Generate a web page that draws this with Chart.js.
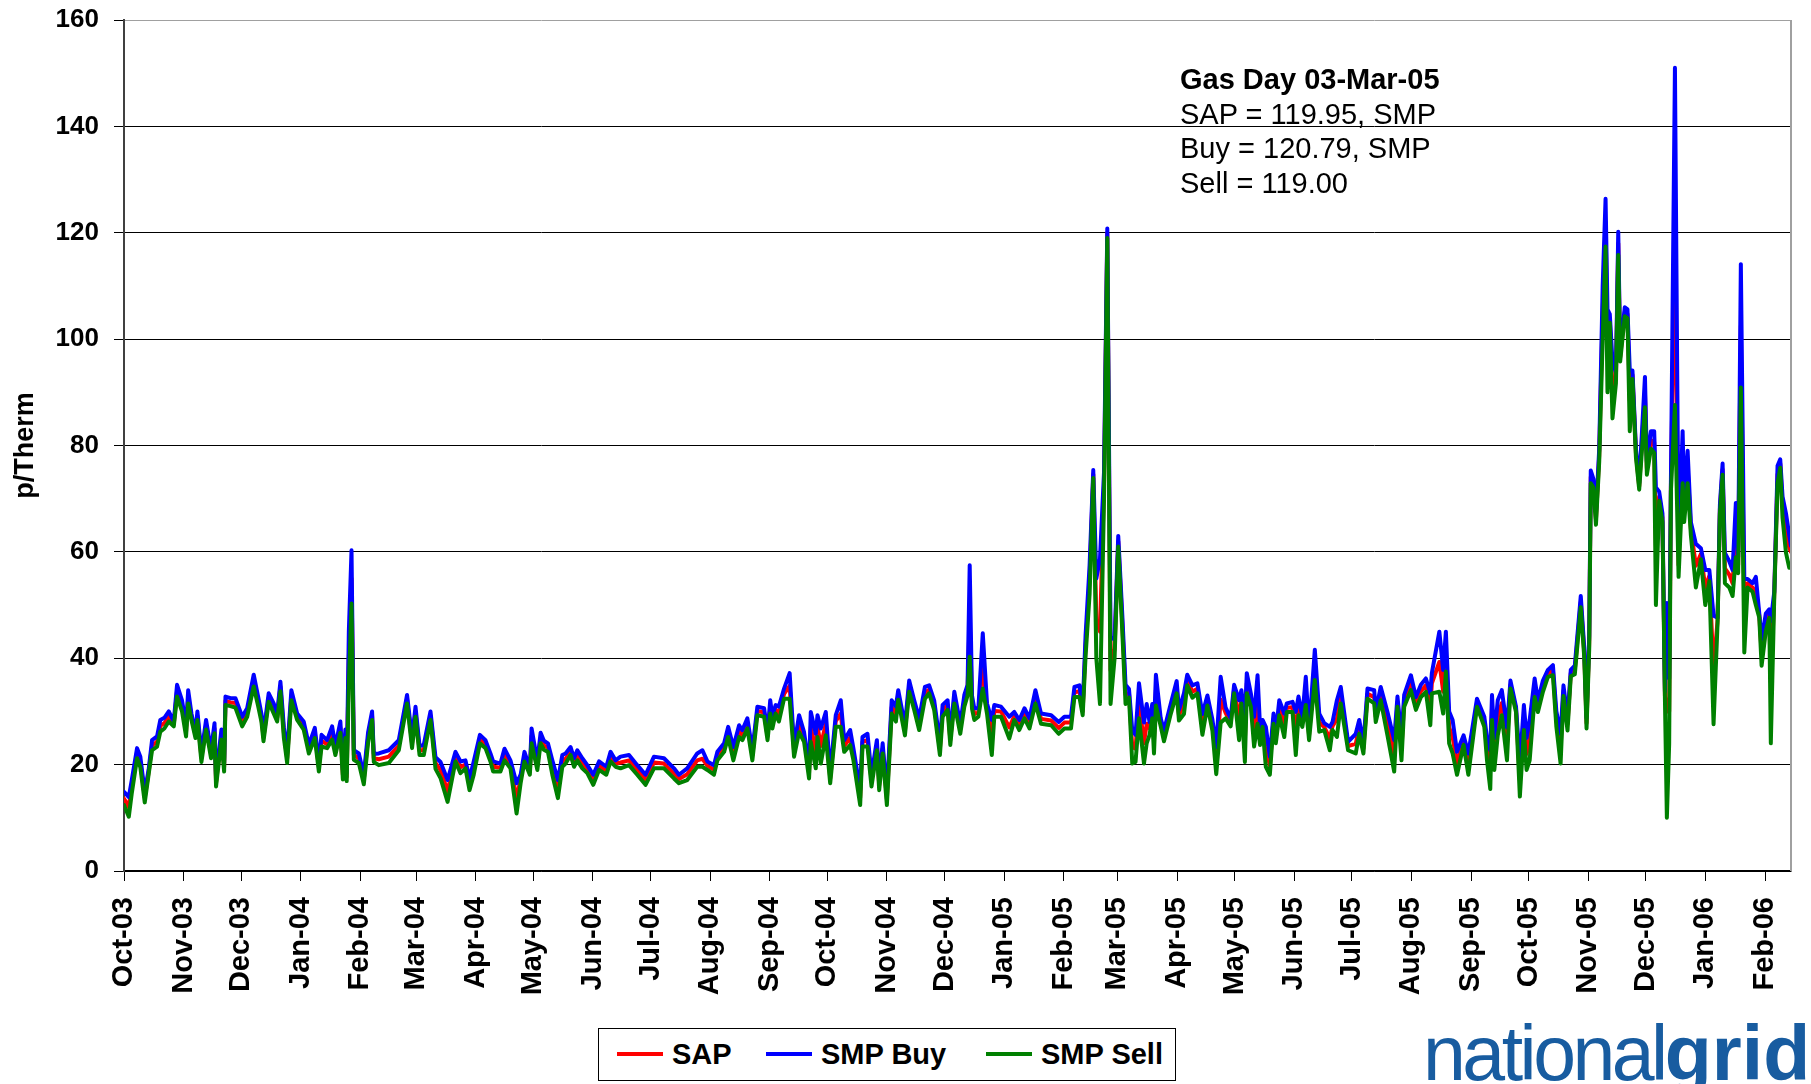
<!DOCTYPE html>
<html>
<head>
<meta charset="utf-8">
<title>SAP and SMP prices</title>
<script src="https://cdn.jsdelivr.net/npm/chart.js@4.4.1/dist/chart.umd.min.js"></script>
<style>
  html, body { margin: 0; padding: 0; background: #fff; }
  body { width: 1811px; height: 1084px; position: relative; overflow: hidden;
         font-family: "Liberation Sans", Arial, sans-serif; color: #000; }
  #priceChart { position: absolute; left: 0; top: 0; }
  .note { position: absolute; left: 1180px; top: 62px; font-size: 29px; line-height: 34.7px; white-space: nowrap; }
  #legend { position: absolute; left: 598px; top: 1028px; width: 578px; height: 53px;
            border: 1px solid #000; box-sizing: border-box; background: #fff; }
  .key { position: absolute; top: 23px; width: 46px; height: 4px; }
  .keyText { position: absolute; top: 11px; font-size: 29px; line-height: 29px; font-weight: bold; white-space: nowrap; }
  .logo { position: absolute; left: 1423px; top: 1015px; font-size: 77px; line-height: 77px;
          color: #185ca0; white-space: nowrap; }
  .logo .light { letter-spacing: -3.5px; }
  .logo .heavy { font-weight: bold; }
</style>
</head>
<body>
<canvas id="priceChart" width="1811" height="1084"></canvas>

<div class="note"><b>Gas Day 03-Mar-05</b><br>SAP = 119.95, SMP<br>Buy = 120.79, SMP<br>Sell = 119.00</div>

<div id="legend">
  <div class="key" style="left:18px;background:#ff0000"></div><div class="keyText" style="left:73px">SAP</div>
  <div class="key" style="left:167px;background:#0000ff"></div><div class="keyText" style="left:222px">SMP Buy</div>
  <div class="key" style="left:387px;background:#008000"></div><div class="keyText" style="left:442px">SMP Sell</div>
</div>

<div class="logo"><span class="light">national</span><span class="heavy">grid</span></div>

<script>
  // gas days counted from 1 Oct 2003
  const gasDays = [
    0, 1, 2.5, 4, 6.8, 8.5, 10.8, 12.9, 14.6, 17.2,
    18.9, 21, 23.3, 25.9, 27.6, 30.2, 32.3, 33.4, 35.1, 37.2,
    38.2, 40.3, 42.7, 45.3, 47.1, 47.9, 50.7, 52.1, 52.8, 55.4,
    58, 61.5, 64.1, 67.5, 69.8, 71.5, 72.6, 75.3, 77.9, 79.7,
    81.4, 83.2, 84.9, 87.1, 90.1, 93.5, 96.2, 99.3, 101.4, 102.8,
    105.7, 108.3, 110, 112.6, 113.9, 115.2, 115.9, 117, 118.4, 119.6,
    122.2, 124.8, 127, 129.1, 130, 132.6, 137.8, 143, 147.3, 149.9,
    151.7, 153.8, 156, 159.5, 162.1,
    164.7, 168.4, 172.5, 175.1, 177.7, 179.8, 182, 185.2, 188.1, 190.7,
    192.1, 195.9, 198, 201.1, 204.3, 206.4, 208.4, 211.2, 212.1, 215.1,
    216.8, 218.5, 220.6, 222.9, 225.8, 228.1, 229.8, 232.4, 234.2, 235.9,
    238.5, 241.1, 244.2, 247.2, 251, 253.2, 255.8, 258.4, 262.8, 267.1,
    271.4, 275.8, 281, 286.2, 288.8, 293.1, 298.3, 301, 303.6, 307,
    308.8, 312.3, 314.4, 317.1, 320.1, 321.8, 324.4, 327, 329.6, 333.1,
    334.9, 336.3,
    337.4, 339.1, 340.8, 343.5, 346.4, 348.7, 351.3, 353.9, 356.5, 357.4,
    360, 360.9, 362.6, 365.2, 367.5, 370.4, 373, 374.8, 377.9, 379.6,
    383.1, 384.3, 386.9, 389, 391.8, 393, 394.8, 397, 399.5, 401.7,
    402.9, 406.4, 408.6, 411.2, 413.8, 416.8, 419, 421.6, 424.6, 426,
    428.6, 430, 432.1, 435.2, 437.3, 439, 440.1, 441.3, 442.5, 444.6,
    446.9, 449.1, 451.6, 452.9, 456.4, 460.7, 463.3, 465.9, 468.6, 471.2,
    474.3, 477.2, 482.5, 486.4, 489.4, 492.8, 494.6, 497.2, 498.9,
    500.4, 502.5, 504.4, 506, 507.9, 510, 511.7, 513.4, 515.5, 517.4,
    519.5, 521.2, 523, 524.7, 526.4, 528.2, 530.8, 532.2, 533.7, 535.1,
    536, 537, 539.5, 541.2, 544.7, 547.8, 549, 551.6, 553.3, 556,
    558.6, 561.2, 563.8, 566.4, 568.4, 570.7, 573.3, 575.9,
    577.7, 580.3, 581.5, 583.3, 584.3, 586.4, 588.1, 589.9, 591.2, 592.5,
    594.2, 596.3, 598.2, 599.4, 601.2, 603.8, 605.1, 608.1, 609.8, 611.2,
    613.2, 615, 616.7, 619.7, 622, 624.6, 627.5, 628.9, 631.2, 633.2,
    637, 641, 642.8, 645, 647.1, 650.6, 651.4, 654, 657.5, 661,
    662.7, 664.8, 666.2, 669.7, 672.3, 674.9, 677.5, 679.8, 680.6, 684.5,
    686.5, 687.9, 689.6, 691.4, 693.7, 697.1, 699.6, 704.1, 707.9, 709.3,
    711, 711.9, 713.1, 714.9, 717, 719.7, 721.5, 724.4, 726.4, 728.5,
    729.9, 731.5, 734.1, 735.8, 738.4, 741, 743.6, 745.4, 747.6,
    749.1, 751.2, 752.9, 755, 758.1, 759.9, 761.1, 762.5, 763.3, 764.7,
    766, 767.7, 769.5, 771, 772, 773.2, 774.6, 776.4, 777.6, 778.6,
    781, 782.4, 783.6, 785, 786.8, 788.5, 791.5, 792.5, 794.6, 796.3,
    797.2, 798.9, 800.6, 801.9, 802.9, 804.1, 805, 807.1, 809, 811.1,
    811.9, 813.7, 815.4, 818, 820.6, 822.9, 825, 827.2, 829.3, 830.5,
    831.9, 833.1, 835.4, 837.1, 838.8, 840, 841.4, 843.2, 844.9, 847.5,
    849.2, 851, 852.2, 854.4, 856.2, 857, 858.8, 860.5, 861.9, 863.1,
    864.9, 866.6, 867.5
  ];

  const sap = [
    13.6, 13.0, 12.0, 15.8, 22.2, 20.5, 13.8, 18.8, 23.6, 24.3,
    27.3, 27.8, 29.0, 27.6, 33.9, 31.0, 26.2, 32.7, 29.0, 25.5,
    29.2, 21.3, 27.5, 22.0, 26.8, 16.6, 25.6, 19.5, 32.0, 31.7,
    31.6, 28.1, 29.8, 35.8, 31.9, 28.8, 25.1, 32.6, 30.5, 28.8,
    34.7, 26.0, 21.2, 33.0, 29.0, 27.3, 22.9, 25.9, 19.5, 24.5,
    23.8, 25.9, 22.6, 27.0, 18.1, 25.8, 17.7, 40.0, 55.0, 21.8,
    21.2, 17.2, 25.0, 29.2, 21.2, 21.0, 21.5, 23.6, 32.3, 24.0,
    30.0, 22.6, 22.8, 29.2, 20.3,
    19.0, 15.0, 21.5, 19.5, 20.0, 16.3, 19.3, 24.8, 23.8, 21.3,
    19.6, 19.4, 21.9, 20.0, 13.6, 17.3, 21.5, 18.7, 25.4, 19.8,
    25.0, 23.6, 23.2, 19.4, 15.4, 20.7, 21.1, 22.5, 20.4, 21.7,
    20.2, 19.1, 17.1, 19.8, 18.8, 21.5, 20.2, 20.4, 20.8, 19.0,
    17.1, 20.4, 20.2, 18.3, 17.3, 18.2, 20.8, 21.1, 19.8, 19.0,
    21.6, 23.2, 26.1, 22.0, 26.3, 25.5, 27.7, 21.7, 30.1, 29.8,
    25.3, 30.8,
    27.9, 30.4, 29.5, 33.3, 34.8, 22.4, 27.7, 25.2, 18.5, 27.1,
    22.5, 27.2, 23.5, 27.7, 17.4, 28.2, 29.6, 23.5, 25.1, 21.9,
    13.8, 24.3, 24.6, 17.0, 23.6, 16.1, 23.0, 13.5, 30.8, 29.5,
    33.1, 26.4, 34.7, 31.2, 27.6, 33.5, 34.1, 31.2, 22.9, 30.1,
    31.2, 24.6, 32.6, 26.7, 32.0, 34.0, 48.0, 31.7, 29.5, 29.8,
    39.0, 30.5, 25.0, 30.1, 30.0, 27.0, 29.1, 27.4, 29.6, 27.7,
    32.7, 28.6, 28.3, 26.9, 27.9, 27.9, 33.6, 33.8, 30.0,
    42.3, 54.8, 74.6, 47.0, 45.0, 72.5, 119.95, 37.7, 41.8, 62.0,
    46.6, 33.2, 33.4, 23.3, 23.0, 32.0, 24.0, 27.7, 26.8, 30.0,
    24.5, 34.0, 28.0, 25.4, 30.4, 34.5, 29.3, 31.4, 35.9, 33.7,
    34.3, 27.5, 32.0, 27.4, 20.7, 32.2, 29.7, 27.9,
    34.2, 28.3, 32.7, 24.4, 35.3, 32.1, 26.2, 32.2, 25.3, 27.7,
    23.3, 19.8, 28.6, 25.0, 30.7, 27.4, 30.7, 30.8, 25.8, 31.0,
    28.0, 33.8, 25.5, 38.7, 27.9, 27.1, 24.9, 27.2, 28.6, 33.0,
    23.5, 23.9, 27.1, 23.0, 33.3, 32.7, 29.0, 33.3, 27.7, 21.6,
    31.8, 22.9, 32.0, 35.4, 31.5, 33.8, 34.9, 30.4, 35.3, 39.3,
    33.7, 41.2, 27.0, 25.2, 20.2, 24.6, 20.1, 31.6, 28.0, 22.9,
    19.0, 30.7, 22.0, 28.8, 31.6, 23.9, 35.0, 30.4, 17.1, 28.8,
    22.0, 24.6, 34.4, 30.9, 34.7, 37.1, 37.7, 28.5, 23.0,
    33.9, 27.6, 37.2, 37.8, 50.6, 41.1, 27.8, 43.1, 74.1, 72.9,
    66.1, 78.2, 105.0, 122.0, 98.0, 103.9, 90.5, 92.7, 118.0, 96.6,
    105.1, 104.7, 88.4, 93.3, 78.6, 72.3, 90.0, 75.7, 81.0, 80.6,
    61.0, 70.4, 66.4, 32.9, 30.0, 30.0, 72.1, 119.0, 57.5, 77.8,
    67.8, 75.9, 64.3, 57.4, 59.6, 53.3, 55.5, 37.8, 47.2, 68.0,
    75.5, 56.9, 55.7, 54.1, 64.1, 57.5, 102.5, 48.0, 54.1, 53.3,
    52.6, 48.0, 41.0, 46.7, 48.4, 35.5, 52.1, 74.5, 76.6, 68.4,
    64.0, 60.7, 60.0
  ];

  const smpBuy = [
    14.9, 14.5, 13.9, 17.0, 23.1, 21.5, 14.7, 19.3, 24.6, 25.3,
    28.4, 28.8, 30.0, 28.1, 35.0, 32.1, 27.2, 34.0, 29.6, 26.0,
    30.0, 22.1, 28.4, 22.7, 27.8, 17.4, 26.6, 20.3, 32.8, 32.5,
    32.5, 29.0, 30.6, 36.9, 32.8, 29.6, 25.9, 33.4, 31.5, 29.6,
    35.6, 27.0, 22.1, 34.0, 29.6, 28.1, 23.7, 26.9, 20.3, 25.6,
    24.6, 27.2, 23.5, 28.1, 19.0, 26.6, 18.5, 45.0, 60.3, 22.7,
    22.1, 18.1, 26.0, 30.0, 22.0, 22.1, 22.7, 24.6, 33.1, 25.0,
    30.9, 23.5, 23.7, 30.0, 21.4,
    20.5, 17.1, 22.4, 20.6, 20.8, 17.4, 20.6, 25.6, 24.6, 22.1,
    20.6, 20.2, 23.0, 20.8, 16.5, 18.1, 22.4, 19.3, 26.8, 20.6,
    26.0, 24.5, 24.0, 20.8, 17.1, 21.8, 22.1, 23.3, 21.2, 22.7,
    21.2, 19.9, 18.1, 20.6, 19.6, 22.4, 20.8, 21.5, 21.8, 19.9,
    18.1, 21.5, 21.2, 19.3, 18.1, 19.3, 22.1, 22.7, 20.6, 19.9,
    22.4, 24.0, 27.1, 23.3, 27.4, 26.5, 28.7, 22.7, 30.9, 30.6,
    26.0, 32.1,
    29.0, 31.2, 30.9, 34.3, 37.2, 23.4, 29.3, 26.1, 19.6, 29.9,
    25.8, 29.3, 26.8, 29.9, 18.4, 29.3, 32.1, 24.6, 26.5, 23.0,
    15.2, 25.2, 25.8, 18.1, 24.6, 17.0, 24.0, 14.6, 32.1, 30.9,
    34.0, 27.4, 35.8, 32.1, 28.7, 34.6, 34.9, 32.1, 24.0, 31.2,
    32.1, 25.5, 33.7, 27.6, 33.1, 35.0, 57.5, 33.0, 30.6, 30.6,
    44.7, 31.5, 28.4, 31.2, 30.9, 29.0, 29.9, 28.4, 30.6, 28.7,
    34.0, 29.6, 29.3, 28.0, 29.0, 29.0, 34.6, 34.9, 30.7,
    44.3, 57.5, 75.4, 55.0, 58.7, 75.0, 120.79, 44.0, 43.5, 63.0,
    48.2, 35.0, 34.2, 26.4, 25.6, 35.3, 27.9, 31.4, 28.0, 31.4,
    27.0, 36.9, 28.7, 26.4, 31.4, 35.7, 30.3, 33.4, 36.9, 34.9,
    35.3, 29.5, 33.0, 28.5, 23.3, 36.5, 30.7, 28.7,
    35.0, 32.1, 34.0, 28.4, 37.2, 33.4, 29.0, 36.8, 27.0, 28.4,
    27.1, 21.5, 29.6, 26.0, 32.1, 29.6, 31.5, 31.8, 29.9, 32.8,
    29.0, 36.5, 26.5, 41.6, 29.6, 27.8, 27.1, 28.0, 32.1, 34.6,
    24.3, 25.8, 28.4, 24.0, 34.3, 34.0, 30.0, 34.6, 29.9, 24.6,
    32.8, 25.0, 33.1, 36.8, 32.7, 35.0, 36.2, 33.4, 37.2, 45.0,
    37.8, 45.0, 30.0, 28.4, 22.4, 25.5, 22.1, 32.4, 29.0, 25.0,
    22.7, 33.1, 25.0, 32.1, 34.0, 27.0, 35.8, 30.9, 20.2, 31.2,
    25.0, 28.4, 36.2, 32.0, 35.8, 37.8, 38.7, 30.0, 25.8,
    34.9, 28.8, 37.8, 38.6, 51.7, 42.0, 28.8, 44.3, 75.3, 73.7,
    67.2, 79.4, 110.0, 126.4, 105.6, 104.7, 95.8, 93.7, 120.2, 97.4,
    106.0, 105.6, 94.1, 94.1, 79.4, 72.9, 92.9, 77.0, 82.7, 82.7,
    72.1, 71.3, 67.2, 33.7, 50.4, 36.2, 72.9, 151.0, 59.8, 82.7,
    70.0, 79.0, 65.6, 61.5, 60.7, 56.6, 56.6, 48.0, 47.6, 68.8,
    76.6, 59.8, 58.2, 56.6, 69.2, 59.0, 114.1, 54.9, 54.9, 54.1,
    55.3, 48.4, 43.5, 48.4, 49.2, 47.0, 52.5, 76.2, 77.4, 70.4,
    67.2, 63.1, 61.1
  ];

  const smpSell = [
    12.4, 11.5, 10.2, 14.5, 21.2, 19.5, 12.9, 18.4, 22.7, 23.4,
    26.2, 26.8, 28.1, 27.2, 32.8, 30.0, 25.3, 31.5, 28.4, 25.0,
    28.4, 20.5, 26.6, 21.2, 25.9, 15.9, 24.7, 18.7, 31.2, 31.0,
    30.7, 27.2, 29.0, 34.7, 31.0, 28.1, 24.4, 31.8, 29.6, 28.1,
    33.8, 25.0, 20.3, 32.1, 28.4, 26.6, 22.1, 25.0, 18.7, 23.4,
    23.1, 24.7, 21.8, 26.0, 17.2, 25.0, 16.9, 35.0, 50.3, 20.9,
    20.3, 16.3, 24.0, 28.4, 20.5, 19.9, 20.3, 22.7, 31.5, 23.1,
    29.0, 21.8, 21.8, 28.4, 19.2,
    17.5, 13.0, 20.6, 18.4, 19.3, 15.2, 18.1, 24.0, 23.1, 20.6,
    18.7, 18.7, 20.8, 19.3, 10.8, 16.5, 20.6, 18.1, 24.0, 19.0,
    24.0, 22.8, 22.4, 18.1, 13.7, 19.6, 20.2, 21.8, 19.6, 20.8,
    19.3, 18.4, 16.2, 19.0, 18.1, 20.6, 19.6, 19.3, 19.9, 18.1,
    16.2, 19.3, 19.3, 17.4, 16.5, 17.1, 19.6, 19.6, 19.0, 18.1,
    20.8, 22.4, 25.2, 20.8, 25.2, 24.6, 26.8, 20.8, 29.3, 29.0,
    24.6, 29.6,
    26.8, 29.6, 28.1, 32.4, 32.4, 21.5, 26.1, 24.3, 17.4, 24.3,
    19.3, 25.2, 20.2, 25.5, 16.5, 27.1, 27.1, 22.4, 23.7, 20.8,
    12.4, 23.4, 23.4, 15.9, 22.7, 15.2, 22.1, 12.4, 29.6, 28.1,
    32.2, 25.5, 33.7, 30.3, 26.5, 32.4, 33.4, 30.3, 21.8, 29.0,
    30.3, 23.7, 31.5, 25.8, 30.9, 33.0, 40.3, 30.5, 28.4, 29.0,
    34.3, 29.6, 21.8, 29.0, 29.0, 24.9, 28.4, 26.5, 28.7, 26.8,
    31.5, 27.7, 27.4, 25.8, 26.8, 26.8, 32.7, 32.7, 29.3,
    40.4, 52.1, 73.9, 40.0, 31.4, 70.0, 119.0, 31.4, 40.0, 61.0,
    45.1, 31.4, 32.6, 20.2, 20.5, 28.7, 20.2, 24.0, 25.6, 28.7,
    22.1, 31.1, 27.2, 24.4, 29.5, 33.4, 28.3, 29.5, 34.9, 32.6,
    33.4, 25.6, 31.1, 26.4, 18.2, 27.9, 28.7, 27.2,
    33.4, 24.6, 31.5, 20.5, 33.4, 30.9, 23.4, 27.7, 23.7, 27.1,
    19.6, 18.1, 27.7, 24.0, 29.3, 25.2, 29.9, 29.9, 21.8, 29.3,
    27.1, 31.2, 24.6, 35.9, 26.2, 26.5, 22.7, 26.5, 25.2, 31.5,
    22.7, 22.1, 25.8, 22.1, 32.4, 31.5, 28.0, 32.1, 25.5, 18.7,
    30.9, 20.8, 30.9, 34.0, 30.3, 32.7, 33.7, 27.4, 33.4, 33.7,
    29.6, 37.5, 24.0, 22.1, 18.1, 23.7, 18.1, 30.9, 27.1, 20.8,
    15.4, 28.4, 19.0, 25.5, 29.3, 20.8, 34.3, 29.9, 14.0, 26.5,
    19.0, 20.8, 32.7, 29.9, 33.7, 36.5, 36.8, 27.1, 20.2,
    32.9, 26.4, 36.6, 37.0, 49.6, 40.2, 26.8, 41.9, 72.9, 72.1,
    65.1, 77.0, 100.0, 117.4, 90.0, 103.1, 85.1, 91.7, 115.8, 95.8,
    104.3, 103.9, 82.7, 92.5, 77.8, 71.7, 87.2, 74.5, 79.4, 78.6,
    50.0, 69.6, 65.6, 32.1, 10.0, 23.9, 71.3, 87.6, 55.3, 72.9,
    65.6, 72.9, 63.1, 53.3, 58.6, 50.0, 54.5, 27.6, 46.8, 67.2,
    74.5, 54.1, 53.3, 51.7, 59.0, 56.0, 90.9, 41.1, 53.3, 52.5,
    50.0, 47.6, 38.6, 45.1, 47.6, 24.0, 51.7, 72.9, 75.8, 66.4,
    59.8, 57.0, 57.0
  ];

  // month starts (days from 1 Oct 2003) and their labels
  const monthStartDays = [0, 31, 61, 92, 123, 152, 183, 213, 244, 274, 305, 336, 366, 397, 427,
    458, 489, 517, 548, 578, 609, 639, 670, 701, 731, 762, 792, 823, 854];
  const monthLabels = ['Oct-03', 'Nov-03', 'Dec-03', 'Jan-04', 'Feb-04', 'Mar-04', 'Apr-04', 'May-04',
    'Jun-04', 'Jul-04', 'Aug-04', 'Sep-04', 'Oct-04', 'Nov-04', 'Dec-04', 'Jan-05', 'Feb-05', 'Mar-05',
    'Apr-05', 'May-05', 'Jun-05', 'Jul-05', 'Aug-05', 'Sep-05', 'Oct-05', 'Nov-05', 'Dec-05', 'Jan-06', 'Feb-06'];

  [sap, smpBuy, smpSell].forEach(s => {
    if (s.length !== gasDays.length) throw new Error('series length ' + s.length + ' vs ' + gasDays.length);
  });

  const fontFamily = '"Liberation Sans", Arial, sans-serif';
  Chart.defaults.font.family = fontFamily;
  Chart.defaults.color = '#000';

  function toPoints(values) {
    return gasDays.map((d, i) => ({ x: d, y: values[i] }));
  }

  // grey right-hand edge of the plot area
  const plotFrame = {
    id: 'plotFrame',
    afterDraw(chart) {
      const { ctx, chartArea } = chart;
      ctx.save();
      ctx.strokeStyle = '#a0a0a0';
      ctx.lineWidth = 2;
      ctx.beginPath();
      ctx.moveTo(chartArea.right, chartArea.top);
      ctx.lineTo(chartArea.right, chartArea.bottom);
      ctx.stroke();
      ctx.restore();
    }
  };

  const ctx = document.getElementById('priceChart').getContext('2d');
  new Chart(ctx, {
    type: 'line',
    data: {
      datasets: [
        { label: 'SAP', data: toPoints(sap), borderColor: '#ff0000', order: 3 },
        { label: 'SMP Buy', data: toPoints(smpBuy), borderColor: '#0000ff', order: 2 },
        { label: 'SMP Sell', data: toPoints(smpSell), borderColor: '#008000', order: 1 }
      ]
    },
    options: {
      responsive: false,
      animation: false,
      layout: { padding: { top: 20, right: 20, bottom: 0, left: 0 } },
      elements: {
        point: { radius: 0 },
        line: { borderWidth: 4, tension: 0, borderJoinStyle: 'round', borderCapStyle: 'round', fill: false }
      },
      plugins: { legend: { display: false }, tooltip: { enabled: false } },
      scales: {
        x: {
          type: 'linear',
          min: 0,
          max: 867.5,
          afterBuildTicks: scale => { scale.ticks = monthStartDays.map(v => ({ value: v })); },
          afterFit: scale => { scale.height = 213; scale.paddingLeft = 0; scale.paddingRight = 0; },
          ticks: {
            autoSkip: false,
            minRotation: 90,
            maxRotation: 90,
            padding: 16,
            font: { size: 29, weight: 'bold' },
            callback: value => monthLabels[monthStartDays.indexOf(value)]
          },
          grid: { drawOnChartArea: false, drawTicks: true, tickLength: 10, color: '#000' },
          border: { color: '#000', width: 1.5 }
        },
        y: {
          min: 0,
          max: 160,
          afterFit: scale => { scale.width = 124; scale.paddingTop = 0; scale.paddingBottom = 0; },
          ticks: { stepSize: 20, padding: 15, font: { size: 26, weight: 'bold' } },
          grid: {
            color: c => (c.tick && c.tick.value === 160) ? '#a0a0a0' : '#000',
            tickColor: '#000',
            tickLength: 10,
            lineWidth: 1
          },
          border: { color: '#404040', width: 2 },
          title: {
            display: true,
            text: 'p/Therm',
            font: { size: 27, weight: 'bold' },
            padding: { top: 9, bottom: 0 }
          }
        }
      }
    },
    plugins: [plotFrame]
  });
</script>
</body>
</html>
